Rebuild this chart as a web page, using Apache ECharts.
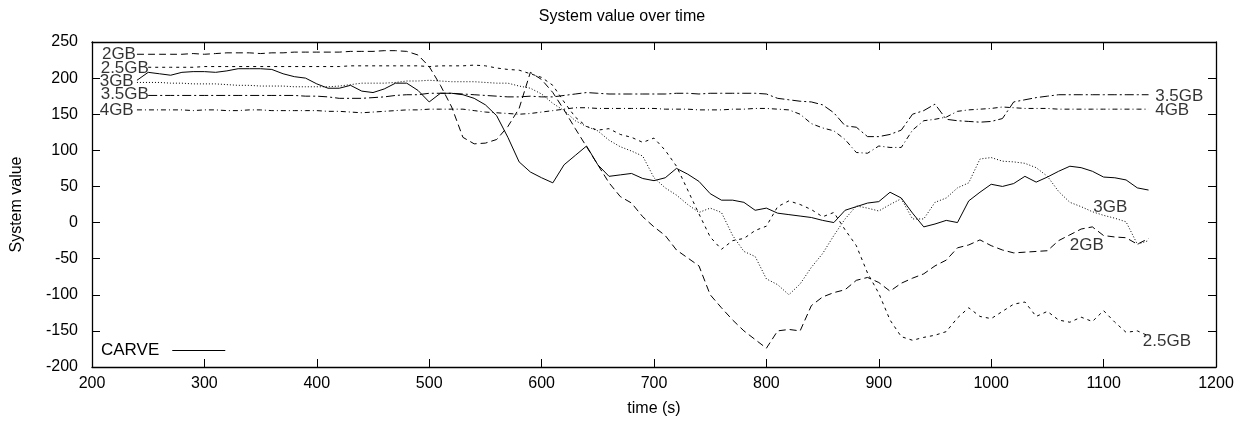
<!DOCTYPE html>
<html>
<head>
<meta charset="utf-8">
<script src="https://cdn.jsdelivr.net/npm/echarts@6/dist/echarts.min.js"></script>
<style>
  html, body { margin: 0; padding: 0; background: #fff; }
  #chart { width: 1244px; height: 425px; }
</style>
</head>
<body>
<div id="chart"></div>
<script>
// time axis (s), one sample every 10 s
const times = [240, 250, 260, 270, 280, 290, 300, 310, 320, 330,
  340, 350, 360, 370, 380, 390, 400, 410, 420, 430,
  440, 450, 460, 470, 480, 490, 500, 510, 520, 530,
  540, 550, 560, 570, 580, 590, 600, 610, 620, 630,
  640, 650, 660, 670, 680, 690, 700, 710, 720, 730,
  740, 750, 760, 770, 780, 790, 800, 810, 820, 830,
  840, 850, 860, 870, 880, 890, 900, 910, 920, 930,
  940, 950, 960, 970, 980, 990, 1000, 1010, 1020, 1030,
  1040, 1050, 1060, 1070, 1080, 1090, 1100, 1110, 1120, 1130,
  1140];

const carve = [197, 208, 206, 204, 208, 209, 209, 208, 210, 213,
  213, 213, 212, 206, 202, 200, 192, 186, 186, 190,
  182, 180, 185, 193, 193, 183, 167, 179, 179, 177,
  172, 163, 148, 118, 84, 70, 62, 55, 80, 93,
  106, 80, 64, 66, 68, 61, 58, 62, 75, 67,
  57, 40, 31, 31, 28, 17, 20, 13, 11, 9,
  7, 3, 0, 17, 22, 27, 29, 42, 34, 13,
  -6, -2, 3, 0, 30, 42, 53, 50, 54, 64,
  56, 63, 71, 78, 76, 71, 63, 62, 59, 48,
  45];

const gb2 = [233, 233, 233, 233, 233, 234, 233, 234, 235, 235,
  235, 234, 235, 235, 236, 236, 236, 236, 236, 237,
  237, 237, 238, 238, 237, 232, 216, 190, 160, 118,
  109, 110, 115, 133, 158, 208, 198, 180, 156, 130,
  105, 80, 55, 36, 27, 8, -6, -18, -38, -49,
  -60, -100, -118, -135, -150, -162, -174, -150, -148, -150,
  -115, -103, -97, -93, -80, -76, -83, -95, -84, -77,
  -71, -60, -52, -35, -31, -24, -32, -38, -42, -41,
  -40, -39, -25, -17, -9, -6, -18, -20, -21, -30,
  -22];

const gb25 = [null, 215, 215, 215, 215, 215, 216, 216, 216, 216,
  216, 216, 216, 216, 216, 216, 216, 216, 216, 217,
  217, 217, 217, 217, 217, 217, 216, 217, 217, 217,
  218, 217, 214, 212, 211, 206, 201, 190, 167, 146,
  133, 128, 130, 122, 118, 111, 117, 100, 78, 45,
  12, -20, -37, -25, -22, -11, -5, 22, 30, 25,
  18, 8, 14, -10, -32, -70, -98, -135, -158, -163,
  -159, -156, -151, -132, -118, -130, -133, -123, -113, -110,
  -130, -123, -135, -138, -131, -137, -122, -138, -152, -150,
  -157];

const gb3 = [194, 194, 194, 193, 193, 192, 192, 192, 191, 190,
  190, 189, 189, 189, 188, 188, 188, 188, 189, 191,
  193, 193, 193, 194, 196, 196, 197, 196, 195, 195,
  195, 194, 193, 193, 189, 186, 178, 165, 155, 141,
  133, 127, 114, 105, 99, 92, 62, 48, 38, 25,
  14, 20, 14, -18, -40, -47, -78, -86, -100, -85,
  -62, -43, -18, 5, 23, 20, 16, 25, 33, 5,
  5, 28, 34, 48, 55, 88, 90, 85, 84, 82,
  76, 64, 43, 28, 22, 15, 10, 6, 1, -30,
  -25];

const gb35 = [null, 176, 176, 176, 176, 176, 176, 176, 176, 176,
  176, 176, 176, 176, 176, 175, 175, 174, 172, 172,
  172, 173, 174, 176, 177, 177, 179, 179, 179, 178,
  177, 176, 175, 174, 174, 175, 174, 174, 176, 178,
  180, 179, 178, 178, 178, 178, 178, 178, 179, 179,
  178, 179, 179, 179, 179, 179, 178, 172, 170, 168,
  167, 163, 152, 134, 132, 119, 119, 122, 128, 150,
  155, 164, 143, 141, 140, 139, 140, 144, 167, 170,
  173, 175, 177, 177, 177, 177, 177, 177, 177, 177,
  177];

const gb4 = [156, 156, 156, 156, 156, 155, 156, 156, 155, 155,
  156, 156, 155, 155, 155, 155, 155, 154, 154, 153,
  152, 153, 154, 155, 156, 156, 157, 157, 157, 157,
  155, 153, 152, 151, 150, 151, 153, 155, 157, 159,
  159, 158, 158, 158, 158, 158, 158, 157, 157, 157,
  156, 156, 156, 157, 157, 158, 158, 157, 156, 150,
  137, 131, 127, 115, 97, 96, 106, 104, 104, 128,
  141, 143, 146, 154, 156, 157, 158, 160, 159, 158,
  158, 158, 157, 157, 157, 157, 157, 157, 157, 157,
  157];

// line labels written on the plot (data coordinates)
const labelNames = ['2GB', '2.5GB', '3GB', '3.5GB', '4GB', '3.5GB', '4GB', '3GB', '2GB', '2.5GB'];
const labelX = [240, 251.5, 238, 251.5, 238, 1145, 1145, 1090, 1069, 1134];
const labelY = [233, 214, 195, 178, 156, 175, 156, 21, -31, -165];
const labelSide = ['left', 'left', 'left', 'left', 'left', 'right', 'right', 'right', 'right', 'right'];

const FONT = 'Liberation Sans, Arial, Helvetica, sans-serif';

function pairs(ys) {
  const out = [];
  for (let i = 0; i < times.length; i++) {
    if (ys[i] !== null) out.push([times[i], ys[i]]);
  }
  return out;
}

function lineSeries(name, ys, dash) {
  return {
    name: name,
    type: 'line',
    data: pairs(ys),
    symbol: 'none',
    smooth: false,
    animation: false,
    lineStyle: { color: '#000', width: 1, type: dash },
    itemStyle: { color: '#000' },
    z: 3
  };
}

const labelData = labelNames.map(function (n, i) {
  return {
    name: n,
    value: [labelX[i], labelY[i]],
    label: { position: labelSide[i] }
  };
});

const chart = echarts.init(document.getElementById('chart'));

const axisCommon = {
  axisLine: { onZero: false, lineStyle: { color: '#000', width: 1.3 } },
  axisTick: { inside: true, length: 8, lineStyle: { color: '#000', width: 1 } },
  splitLine: { show: false }
};

function plain(v) { return String(v); }

chart.setOption({
  backgroundColor: '#fff',
  animation: false,
  textStyle: { fontFamily: FONT, color: '#000' },
  title: {
    text: 'System value over time',
    left: 'center',
    top: 4,
    textStyle: { fontFamily: FONT, fontSize: 16, fontWeight: 'normal', color: '#000' }
  },
  grid: { left: 92, right: 28, top: 42, bottom: 58 },
  legend: {
    data: ['CARVE'],
    left: 96,
    top: 337,
    align: 'right',
    icon: 'rect',
    itemWidth: 53,
    itemHeight: 1,
    itemStyle: { color: '#000' },
    textStyle: { fontFamily: FONT, fontSize: 17, color: '#000', padding: [0, 8, 0, 0] }
  },
  xAxis: [
    Object.assign({
      type: 'value', min: 200, max: 1200, interval: 100, position: 'bottom',
      name: 'time (s)', nameLocation: 'middle', nameGap: 34,
      nameTextStyle: { fontFamily: FONT, fontSize: 16, color: '#000' },
      axisLabel: { color: '#000', fontFamily: FONT, fontSize: 16, margin: 9, formatter: plain }
    }, axisCommon),
    Object.assign({
      type: 'value', min: 200, max: 1200, interval: 100, position: 'top',
      axisLabel: { show: false }
    }, axisCommon)
  ],
  yAxis: [
    Object.assign({
      type: 'value', min: -200, max: 250, interval: 50, position: 'left',
      name: 'System value', nameLocation: 'middle', nameGap: 67,
      nameTextStyle: { fontFamily: FONT, fontSize: 16, color: '#000' },
      axisLabel: { color: '#000', fontFamily: FONT, fontSize: 16, margin: 14, formatter: plain }
    }, axisCommon),
    Object.assign({
      type: 'value', min: -200, max: 250, interval: 50, position: 'right',
      axisLabel: { show: false }
    }, axisCommon)
  ],
  series: [
    lineSeries('CARVE', carve, 'solid'),
    lineSeries('2GB', gb2, [7, 4]),
    lineSeries('2.5GB', gb25, [3, 4]),
    lineSeries('3GB', gb3, [1, 2]),
    lineSeries('3.5GB', gb35, [9, 3, 2, 3]),
    lineSeries('4GB', gb4, [5, 3, 1, 3]),
    {
      name: 'labels',
      type: 'scatter',
      data: labelData,
      symbolSize: 0,
      silent: true,
      animation: false,
      z: 5,
      label: {
        show: true,
        distance: 1,
        formatter: function (p) { return p.name; },
        fontFamily: FONT,
        fontSize: 17,
        color: '#000'
      }
    }
  ]
});
</script>
</body>
</html>
